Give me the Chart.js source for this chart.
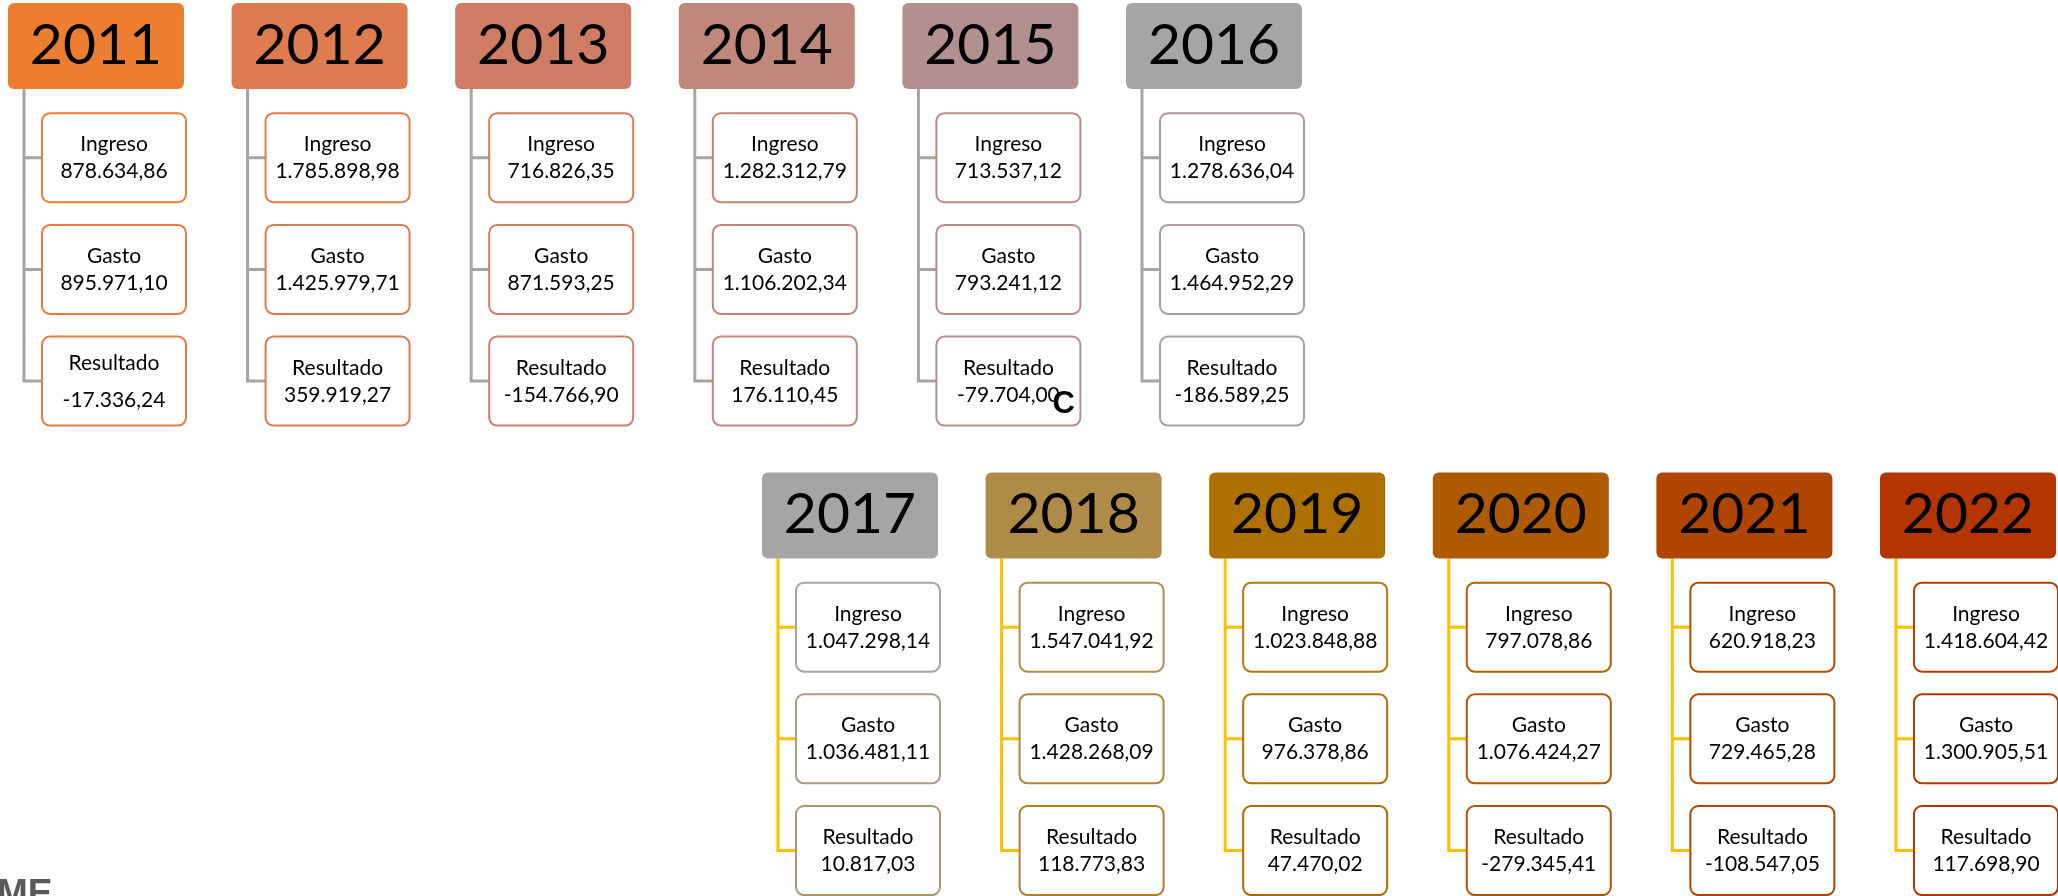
<!DOCTYPE html>
<html>
<head>
<meta charset="utf-8">
<script src="https://cdn.jsdelivr.net/npm/chart.js@4.4.1/dist/chart.umd.min.js"></script>
<style>
html, body { margin: 0; padding: 0; background: #fff; }
#wrap { width: 2058px; height: 896px; position: relative; }
</style>
</head>
<body>
<div id="wrap"><canvas id="resumen"></canvas></div>
<script>
// DATA
const years = ["2011", "2012", "2013", "2014", "2015", "2016", "2017", "2018", "2019", "2020", "2021", "2022"];
const rowLabels = ["Ingreso", "Gasto", "Resultado"];
const ingreso = [878634.86, 1785898.98, 716826.35, 1282312.79, 713537.12, 1278636.04, 1047298.14, 1547041.92, 1023848.88, 797078.86, 620918.23, 1418604.42];
const gasto = [895971.10, 1425979.71, 871593.25, 1106202.34, 793241.12, 1464952.29, 1036481.11, 1428268.09, 976378.86, 1076424.27, 729465.28, 1300905.51];
const resultado = [-17336.24, 359919.27, -154766.90, 176110.45, -79704.00, -186589.25, 10817.03, 118773.83, 47470.02, -279345.41, -108547.05, 117698.90];

// layout / style
const PER_ROW = 6;
const ROW_SHIFT = 3.372;   // second block starts further right
const ROW_STEP = 4.203;    // and lower
const headColors = [
	["#ED7D31", "#DE7B50", "#CF7C65", "#C0877B", "#B29090", "#A5A5A5"],
	["#A5A5A5", "#AF8B4A", "#AE7100", "#AE5A00", "#B04500", "#B33500"]
];
const lineColors = ["#A5A5A5", "#FFC000"];

function fmt(v) {
	const parts = Math.abs(v).toFixed(2).split(".");
	const ent = parts[0].replace(/\B(?=(\d{3})+(?!\d))/g, ".");
	return (v < 0 ? "-" : "") + ent + "," + parts[1];
}

function hexToRgb(h) {
	return [1, 3, 5].map(p => parseInt(h.substr(p, 2), 16));
}

// children get their own gradient over the 18 boxes of a block
function childColor(row, j) {
	const pal = headColors[row].map(hexToRgb);
	const p = j / 17 * (pal.length - 1);
	const a = Math.floor(p), b = Math.min(a + 1, pal.length - 1), t = p - a;
	const c = pal[a].map((v, n) => Math.round(v + (pal[b][n] - v) * t));
	return `rgb(${c[0]},${c[1]},${c[2]})`;
}

function rrect(ctx, x, y, w, h, r) {
	ctx.beginPath();
	ctx.moveTo(x + r, y);
	ctx.arcTo(x + w, y, x + w, y + h, r);
	ctx.arcTo(x + w, y + h, x, y + h, r);
	ctx.arcTo(x, y + h, x, y, r);
	ctx.arcTo(x, y, x + w, y, r);
	ctx.closePath();
}

const headPoints = years.map((y, i) => {
	const row = Math.floor(i / PER_ROW);
	return {x: (i % PER_ROW) + row * ROW_SHIFT, y: row * ROW_STEP};
});
const childPoints = [];
const childValues = [];
years.forEach((y, i) => {
	const vals = [ingreso[i], gasto[i], resultado[i]];
	rowLabels.forEach((lab, k) => {
		childPoints.push({x: headPoints[i].x, y: headPoints[i].y + k + 1});
		childValues.push(vals[k]);
	});
});

const boxPlugin = {
	id: "boxes",
	afterDatasetsDraw(chart) {
		const ctx = chart.ctx;
		const heads = chart.getDatasetMeta(0).data;
		const kids = chart.getDatasetMeta(1).data;
		ctx.save();
		ctx.lineJoin = "miter";

		heads.forEach((pt, i) => {
			const row = Math.floor(i / PER_ROW);
			const col = i % PER_ROW;
			const cx = pt.x, cy = pt.y;
			const mine = kids.slice(i * 3, i * 3 + 3);
			const lx = cx - 72;

			// connectors
			ctx.strokeStyle = lineColors[row];
			ctx.lineWidth = 3;
			ctx.beginPath();
			ctx.moveTo(lx, cy + 43);
			ctx.lineTo(lx, mine[2].y);
			ctx.lineTo(cx - 54, mine[2].y);
			ctx.moveTo(lx, mine[0].y);
			ctx.lineTo(cx - 54, mine[0].y);
			ctx.moveTo(lx, mine[1].y);
			ctx.lineTo(cx - 54, mine[1].y);
			ctx.stroke();

			// year box
			rrect(ctx, cx - 88, cy - 43, 176, 86, 6);
			ctx.fillStyle = headColors[row][col];
			ctx.fill();
			ctx.fillStyle = "#000";
			ctx.font = "57px Lato";
			ctx.textAlign = "center";
			ctx.textBaseline = "alphabetic";
			ctx.fillText(years[i], cx, cy + 18);

			// value boxes
			mine.forEach((k, n) => {
				const bx = k.x + 18, by = k.y;
				rrect(ctx, bx - 72, by - 44.5, 144, 89, 8);
				ctx.fillStyle = "#fff";
				ctx.fill();
				ctx.strokeStyle = childColor(row, col * 3 + n);
				ctx.lineWidth = 2;
				ctx.stroke();
				ctx.fillStyle = "#000";
				ctx.font = "21px Lato";
				let a = -6.5, b = 20.5;
				if (years[i] === "2011" && n === 2) { a = -11; b = 26; }
				ctx.fillText(rowLabels[n], bx, by + a);
				ctx.fillText(fmt(childValues[i * 3 + n]), bx, by + b);
				if (years[i] === "2015" && n === 2) {
					ctx.font = "bold 31px 'Liberation Sans'";
					ctx.textAlign = "left";
					ctx.fillText("C", bx + 44, by + 32);
					ctx.textAlign = "center";
				}
			});
		});

		// leftover of a logo at the bottom edge
		ctx.font = "bold 37px 'Liberation Sans'";
		ctx.fillStyle = "#595959";
		ctx.textAlign = "left";
		ctx.fillText("ME", chart.chartArea.left - 3, chart.chartArea.top + 905);
		ctx.restore();
	}
};

const ctx = document.getElementById("resumen");
new Chart(ctx, {
	type: "scatter",
	data: {
		datasets: [
			{label: "Años", data: headPoints, pointRadius: 0, showLine: false},
			{label: "Partidas", data: childPoints, pointRadius: 0, showLine: false}
		]
	},
	options: {
		responsive: true,
		maintainAspectRatio: false,
		animation: false,
		layout: {padding: 0, autoPadding: false},
		plugins: {legend: {display: false}, tooltip: {enabled: false}},
		events: [],
		scales: {
			x: {type: "linear", display: false, min: -0.4293, max: 8.7746},
			y: {type: "linear", display: false, reverse: true, min: -0.4118, max: 7.6097}
		}
	},
	plugins: [boxPlugin]
});
</script>
</body>
</html>
